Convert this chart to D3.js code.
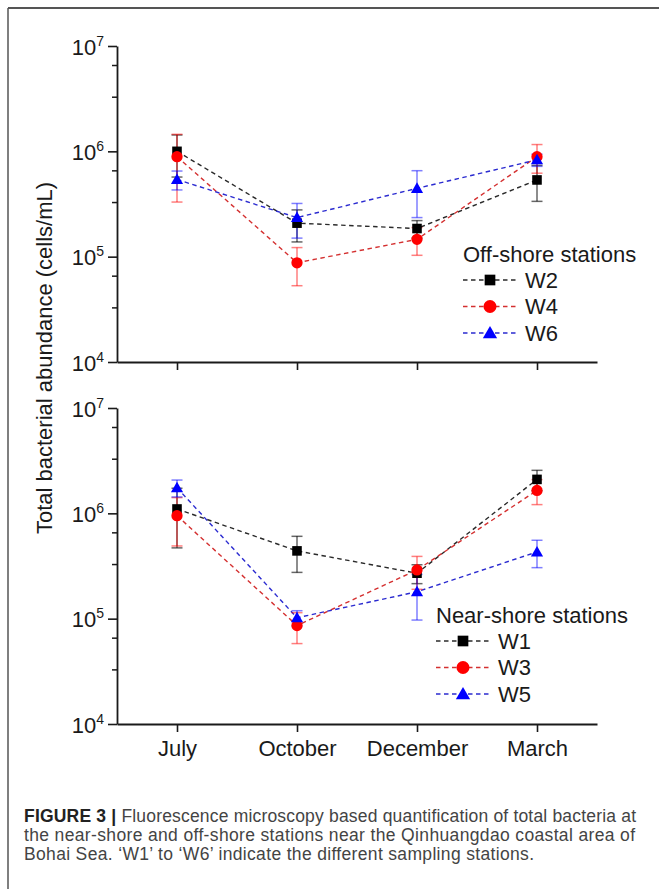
<!DOCTYPE html>
<html>
<head>
<meta charset="utf-8">
<script src="https://cdn.jsdelivr.net/npm/d3@7"></script>
<style>
  body { margin: 0; background: #fff; }
  svg text { font-family: "Liberation Sans", Arial, sans-serif; }
</style>
</head>
<body>
<svg id="chart"></svg>
<script>
/*
 * Total bacterial abundance at off-shore and near-shore stations
 */

// ** Data **
const months = ["July", "October", "December", "March"];

const offShoreNames = ["W2", "W4", "W6"];
const offShoreMeans = [
	[1.0e6, 2.08e5, 1.85e5, 5.35e5],   // W2
	[8.9e5, 8.75e4, 1.46e5, 8.9e5],    // W4
	[5.4e5, 2.35e5, 4.45e5, 8.3e5]     // W6
];
const offShoreSd = [
	[4.3e5, 7.0e4, 3.5e4, 2.0e5],
	[5.6e5, 3.45e4, 4.3e4, 2.7e5],
	[1.1e5, 8.5e4, 2.1e5, 1.1e5]
];

const nearShoreNames = ["W1", "W3", "W5"];
const nearShoreMeans = [
	[1.1e6, 4.4e5, 2.7e5, 2.1e6],      // W1
	[9.5e5, 8.6e4, 2.9e5, 1.65e6],     // W3
	[1.75e6, 1.02e5, 1.8e5, 4.3e5]     // W5
];
const nearShoreSd = [
	[6.3e5, 1.65e5, 5.5e4, 4.6e5],
	[4.6e5, 2.8e4, 1.0e5, 4.4e5],
	[3.2e5, 1.7e4, 8.3e4, 1.25e5]
];

const yTickValues = [1e4, 1e5, 1e6, 1e7];
const yTickExponents = ["4", "5", "6", "7"];
const yMinorValues = [3.3e4, 6.6e4, 3.3e5, 6.6e5, 3.3e6, 6.6e6];

const yTitle = "Total bacterial abundance (cells/mL)";
const captionBold = "FIGURE 3 |";
const captionLines = [
	" Fluorescence microscopy based quantification of total bacteria at",
	"the near-shore and off-shore stations near the Qinhuangdao coastal area of",
	"Bohai Sea. \u2018W1\u2019 to \u2018W6\u2019 indicate the different sampling stations."
];

// ** Constants **
const width = 659, height = 889;
const markerColors = ["#000000", "#ff0000", "#0000ff"];
const lineColors = ["#2a2a2a", "#d43030", "#2b2bd0"];
const symbols = [d3.symbolSquare, d3.symbolCircle, d3.symbolTriangle];
const symbolSizes = [92, 100, 64];
const legendSymbolSizes = [114, 133, 88];
const captionWidths = [612, 611, 510];   // ink widths of the caption lines
const axisColor = "#1a1a1a";

const svg = d3.select("#chart")
	.attr("width", width)
	.attr("height", height);

svg.append("rect").attr("width", width).attr("height", height).attr("fill", "#fff");

// frame (cropped on right and bottom)
svg.append("line").attr("x1", 8).attr("x2", width).attr("y1", 8).attr("y2", 8)
	.attr("stroke", "#555").attr("stroke-width", 2);
svg.append("line").attr("x1", 8).attr("x2", 8).attr("y1", 8).attr("y2", height)
	.attr("stroke", "#555").attr("stroke-width", 1.5);

const x = d3.scalePoint()
	.domain(months)
	.range([117, 597])
	.padding(0.5);

const panels = [
	{ names: offShoreNames, means: offShoreMeans, sd: offShoreSd,
	  range: [362, 46], legendTitle: "Off-shore stations", legendX: 463, legendY: 262, labels: false },
	{ names: nearShoreNames, means: nearShoreMeans, sd: nearShoreSd,
	  range: [724, 408], legendTitle: "Near-shore stations", legendX: 436, legendY: 623, labels: true }
];

panels.forEach(drawPanel);

function drawPanel(p) {
	let y = d3.scaleLog().domain([1e4, 1e7]).range(p.range);
	let g = svg.append("g");

	// minor ticks
	g.append("g")
		.attr("transform", "translate(117,0)")
		.call(d3.axisLeft(y).tickValues(yMinorValues).tickSize(5).tickSizeOuter(0).tickFormat(""))
		.call(s => s.select(".domain").remove())
		.call(s => s.selectAll("line").attr("stroke", axisColor).attr("stroke-width", 1.5));

	// major y axis
	let yAxis = g.append("g")
		.attr("transform", "translate(117,0)")
		.call(d3.axisLeft(y).tickValues(yTickValues).tickSize(9).tickSizeOuter(0).tickFormat(""));
	yAxis.select(".domain").attr("stroke", axisColor).attr("stroke-width", 1.8);
	yAxis.selectAll(".tick line").attr("stroke", axisColor).attr("stroke-width", 1.6);
	yAxis.selectAll(".tick").each(function(d, i) {
		let t = d3.select(this).append("text")
			.attr("x", -13).attr("y", 8)
			.attr("text-anchor", "end")
			.attr("fill", "#1a1a1a")
			.style("font-size", "22px");
		t.append("tspan").text("10");
		t.append("tspan").attr("dy", -9).style("font-size", "14px").text(yTickExponents[i]);
	});

	// x axis
	let xAxis = g.append("g")
		.attr("transform", "translate(0," + p.range[0] + ")")
		.call(d3.axisBottom(x).tickSize(8).tickSizeOuter(0));
	xAxis.select(".domain").attr("stroke", axisColor).attr("stroke-width", 1.8);
	xAxis.selectAll(".tick line").attr("stroke", axisColor).attr("stroke-width", 1.6);
	xAxis.selectAll(".tick text")
		.attr("y", 32).attr("dy", null)
		.attr("fill", "#1a1a1a")
		.style("font-size", "22px")
		.style("display", p.labels ? null : "none");

	let line = d3.line()
		.x((d, i) => x(months[i]))
		.y(d => y(d));

	// dashed connecting lines
	p.means.forEach(function(vals, s) {
		g.append("path")
			.datum(vals)
			.attr("d", line)
			.attr("fill", "none")
			.attr("stroke", lineColors[s])
			.attr("stroke-width", 1.4)
			.attr("stroke-dasharray", "4.5,3.5");
	});

	// error bars
	p.means.forEach(function(vals, s) {
		let eg = g.append("g")
			.attr("stroke", markerColors[s])
			.attr("stroke-opacity", s == 0 ? 0.6 : 0.5)
			.attr("stroke-width", 1.5);
		vals.forEach(function(v, i) {
			let cx = x(months[i]);
			let hi = y(v + p.sd[s][i]);
			let lo = y(Math.max(v - p.sd[s][i], 1e4));
			eg.append("line").attr("x1", cx).attr("x2", cx).attr("y1", hi).attr("y2", lo);
			eg.append("line").attr("x1", cx - 5.5).attr("x2", cx + 5.5).attr("y1", hi).attr("y2", hi);
			eg.append("line").attr("x1", cx - 5.5).attr("x2", cx + 5.5).attr("y1", lo).attr("y2", lo);
		});
	});

	// markers
	p.means.forEach(function(vals, s) {
		g.selectAll(null)
			.data(vals)
			.join("path")
			.attr("d", d3.symbol().type(symbols[s]).size(symbolSizes[s]))
			.attr("transform", (d, i) => "translate(" + x(months[i]) + "," + (y(d) + (s == 2 ? 1 : 0)) + ")")
			.attr("fill", markerColors[s]);
	});

	// legend
	let lg = g.append("g").attr("transform", "translate(" + p.legendX + "," + p.legendY + ")");
	lg.append("text")
		.attr("x", 0).attr("y", 0)
		.attr("fill", "#1a1a1a")
		.style("font-size", "22px")
		.text(p.legendTitle);
	p.names.forEach(function(name, s) {
		let rowY = 25.5 + s * 26.5;
		lg.append("line")
			.attr("x1", 0).attr("x2", 56)
			.attr("y1", rowY - 7.5).attr("y2", rowY - 7.5)
			.attr("stroke", lineColors[s])
			.attr("stroke-width", 1.3)
			.attr("stroke-dasharray", "4.5,3.5");
		lg.append("path")
			.attr("d", d3.symbol().type(symbols[s]).size(legendSymbolSizes[s]))
			.attr("transform", "translate(27," + (rowY - 7.5 + (s == 2 ? 1.2 : 0)) + ")")
			.attr("fill", markerColors[s]);
		lg.append("text")
			.attr("x", 62).attr("y", rowY)
			.attr("fill", "#1a1a1a")
			.style("font-size", "22px")
			.text(name);
	});
}

// shared y axis title
svg.append("text")
	.attr("transform", "translate(52,358) rotate(-90)")
	.attr("text-anchor", "middle")
	.attr("fill", "#1a1a1a")
	.style("font-size", "22px")
	.text(yTitle);

// caption
let cap = svg.append("g").attr("transform", "translate(24,0)");
let first = cap.append("text").attr("x", 0).attr("y", 822)
	.style("font-size", "17.5px")
	.attr("textLength", captionWidths[0])
	.attr("lengthAdjust", "spacing");
first.append("tspan").attr("fill", "#222").style("font-weight", "bold").text(captionBold);
first.append("tspan").attr("fill", "#444").text(captionLines[0]);
captionLines.slice(1).forEach(function(txt, i) {
	cap.append("text")
		.attr("x", 0).attr("y", 841 + i * 19)
		.attr("fill", "#444")
		.style("font-size", "17.5px")
		.attr("textLength", captionWidths[i + 1])
		.attr("lengthAdjust", "spacing")
		.text(txt);
});
</script>
</body>
</html>
